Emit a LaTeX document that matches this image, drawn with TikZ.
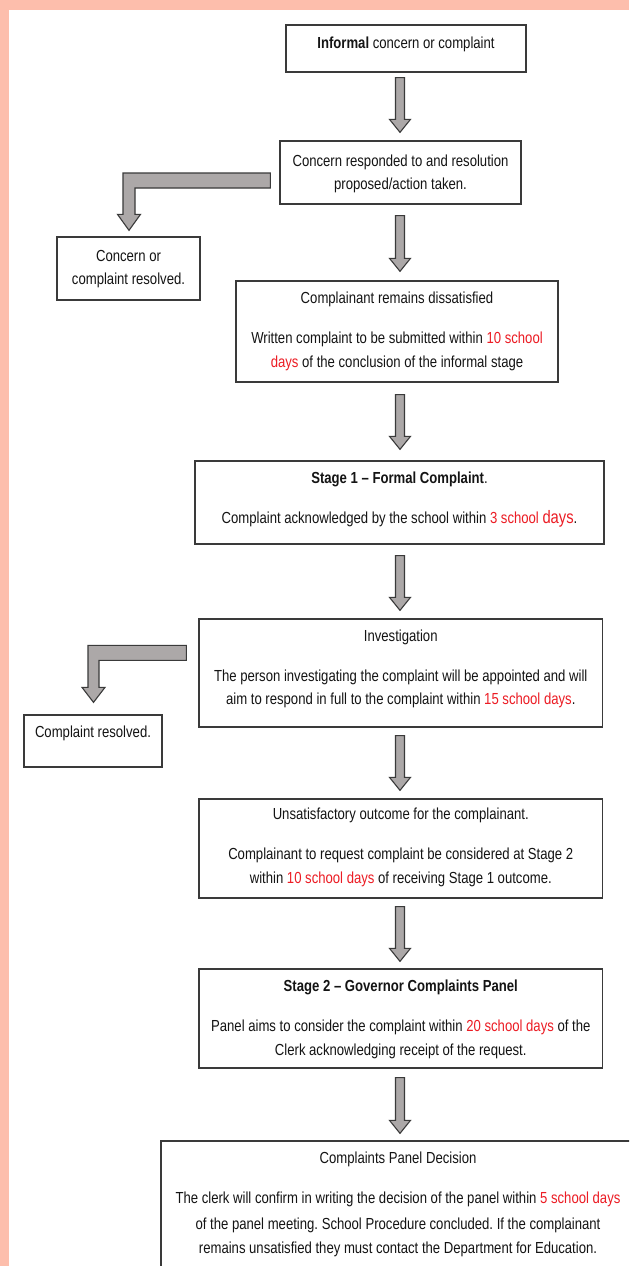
\documentclass[tikz,border=0pt]{standalone}
\usepackage{fontspec}
\setmainfont{Liberation Sans}[FakeStretch=0.82]
\usetikzlibrary{calc}
\frenchspacing
\definecolor{salmon}{RGB}{253,190,172}
\definecolor{arrowgray}{RGB}{172,168,168}
\definecolor{edge}{RGB}{58,58,58}
\definecolor{dayred}{RGB}{236,28,36}
\definecolor{ink}{RGB}{20,20,20}
\newcommand\rd[1]{\textcolor{dayred}{#1}}
\newcommand\fatdown[4]{%
  \path[fat] let \p1=($(#1.south -| axis)+(0,#3)$), \p2=($(#2.north -| axis)+(0,-#4)$) in
    (\x1-4.5pt,\y1) -- (\x1+4.5pt,\y1) -- (\x1+4.5pt,\y2+13pt) -- (\x1+10.5pt,\y2+13pt)
    -- (\x1,\y2) -- (\x1-10.5pt,\y2+13pt) -- (\x1-4.5pt,\y2+13pt) -- cycle;}
\newcommand\fatbend[5]{%
  \path[fat] let \p1=(#1), \p2=(#2) in
    (\x1,\y1) -- (\x2-#3,\y1) -- (\x2-#3,\y2+#5) -- (\x2-#4,\y2+#5) -- (\x2,\y2)
    -- (\x2+#4,\y2+#5) -- (\x2+#3,\y2+#5) -- (\x2+#3,\y1-15pt) -- (\x1,\y1-15pt) -- cycle;}
\begin{document}
\begin{tikzpicture}[x=1pt,y=-1pt,
  box/.style n args={2}{draw=edge,line width=1.3pt,inner sep=0pt,minimum width=#1,minimum height=#2},
  txt/.style={inner sep=0pt,anchor=base,text=ink,font=\fontsize{16}{19}\selectfont},
  fat/.style={fill=arrowgray,draw=edge,line width=1.1pt,line join=miter}]
\clip (0,0) rectangle (629,1266);
\fill[white] (0,0) rectangle (629,1266);
\fill[salmon] (0,0) rectangle (629,10);
\fill[salmon] (0,0) rectangle (8.7,1266);
\coordinate (axis) at (400,0);
% boxes
\node[box={240pt}{47pt}] (b1) at (406,48.5) {};
\node[box={241pt}{63pt}] (b2) at (400.5,172.5) {};
\node[box={143pt}{63pt}] (b3) at (128.5,268.5) {};
\node[box={322pt}{101pt}] (b4) at (397,331.5) {};
\node[box={409pt}{83pt}] (s1) at (399.5,502.5) {};
\node[box={403.5pt}{108pt}] (inv) at (400.75,673) {};
\node[box={138pt}{52pt}] (cr) at (93,741) {};
\node[box={403.5pt}{99pt}] (uns) at (400.75,848.5) {};
\node[box={403.5pt}{99pt}] (s2) at (400.75,1018.5) {};
\node[box={479pt}{149pt}] (fin) at (400.5,1215.5) {};
% texts
\node[txt] (t1) at (406,48.5) {\textbf{Informal} concern or complaint};
\node[txt] (t2a) at (400.5,166.2) {Concern responded to and resolution};
\node[txt] (t2b) at (400.5,189.8) {proposed/action taken.};
\node[txt] (t3a) at (128.5,261.5) {Concern or};
\node[txt] (t3b) at (128.5,284.8) {complaint resolved.};
\node[txt] (t4a) at (397,303.2) {Complainant remains dissatisfied};
\node[txt] (t4b) at (397,343.8) {Written complaint to be submitted within \rd{10 school}};
\node[txt] (t4c) at (397,367.2) {\rd{days} of the conclusion of the informal stage};
\node[txt] (t5a) at (399.5,483.8) {\textbf{Stage 1 – Formal Complaint}.};
\node[txt] (t5b) at (399.5,523.8) {Complaint acknowledged by the school within \rd{3 school {\fontsize{18}{20}\selectfont days}}.};
\node[txt] (t6a) at (400.75,641.2) {Investigation};
\node[txt] (t6b) at (400.75,681.5) {The person investigating the complaint will be appointed and will};
\node[txt] (t6c) at (400.75,704.8) {aim to respond in full to the complaint within \rd{15 school days}.};
\node[txt] (t7) at (93,737.2) {Complaint resolved.};
\node[txt] (t8a) at (400.75,819.5) {Unsatisfactory outcome for the complainant.};
\node[txt] (t8b) at (400.75,859.8) {Complainant to request complaint be considered at Stage 2};
\node[txt] (t8c) at (400.75,883.2) {within \rd{10 school days} of receiving Stage 1 outcome.};
\node[txt] (t9a) at (400.75,991.5) {\textbf{Stage 2 – Governor Complaints Panel}};
\node[txt] (t9b) at (400.75,1031.5) {Panel aims to consider the complaint within \rd{20 school days} of the};
\node[txt] (t9c) at (400.75,1055.5) {Clerk acknowledging receipt of the request.};
\node[txt] (t10a) at (398,1163.8) {Complaints Panel Decision};
\node[txt] (t10b) at (398,1203.8) {The clerk will confirm in writing the decision of the panel within \rd{5 school days}};
\node[txt] (t10c) at (398,1229.8) {of the panel meeting. School Procedure concluded. If the complainant};
\node[txt] (t10d) at (398,1253.8) {remains unsatisfied they must contact the Department for Education.};
% straight arrows
\fatdown{b1}{b2}{5}{8}
\fatdown{b2}{b4}{11}{9}
\fatdown{b4}{s1}{12}{11}
\fatdown{s1}{inv}{11}{8}
\fatdown{inv}{uns}{8}{8}
\fatdown{uns}{s2}{8}{7}
\fatdown{s2}{fin}{9}{7}
% bent arrows
\coordinate (bs1) at ($(b2.west)+(-9,0.5)$);
\coordinate (bt1) at ($(b3.north)+(0.5,-6)$);
\fatbend{bs1}{bt1}{6pt}{11.5pt}{16pt}
\coordinate (bs2) at ($(inv.north west)+(-12,27)$);
\coordinate (bt2) at ($(cr.north)+(0.5,-12)$);
\fatbend{bs2}{bt2}{5.5pt}{11.5pt}{15pt}
\end{tikzpicture}
\end{document}
